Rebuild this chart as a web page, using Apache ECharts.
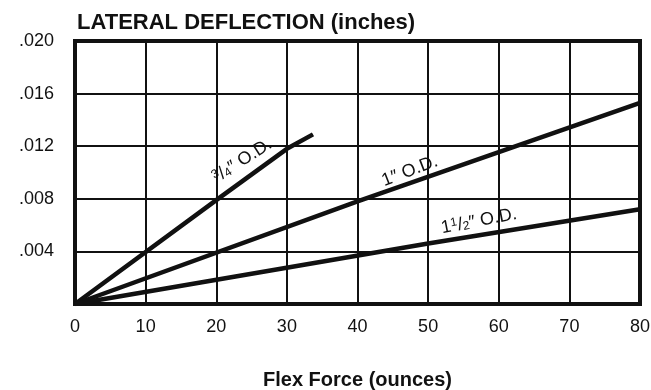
<!DOCTYPE html>
<html>
<head>
<meta charset="utf-8">
<script src="https://cdn.jsdelivr.net/npm/echarts@6/dist/echarts.min.js"></script>
<style>
  html, body { margin: 0; padding: 0; background: #fff; }
  #chart { width: 651px; height: 390px; }
</style>
</head>
<body>
<div id="chart"></div>
<script>
// Flex force (ounces) vs lateral deflection (inches) for three tube sizes
const forceTicks = [0, 10, 20, 30, 40, 50, 60, 70, 80];
const deflectionTicks = ['', '.004', '.008', '.012', '.016', '.020'];

const od075 = [[0, 0], [20, 0.0079], [30, 0.0118], [33.7, 0.0129]];
const od100 = [[0, 0], [40, 0.0078], [80, 0.0153]];
const od150 = [[0, 0], [50, 0.0046], [80, 0.0072]];

// label anchor points (force, deflection) and slant angles
const labelSpots = [
  { name: 'od075', at: [23.7, 0.0109], angle: 33 },
  { name: 'od100', at: [47.4, 0.0101], angle: 21 },
  { name: 'od150', at: [57.2, 0.0063], angle: 11 }
];

const sans = '"Liberation Sans", Arial, Helvetica, sans-serif';

const fracRich = {
  t: { fontFamily: sans, fontSize: 18, color: '#111' },
  sup: { fontFamily: sans, fontSize: 12, color: '#111', padding: [0, 0, 7, 0] },
  sub: { fontFamily: sans, fontSize: 12, color: '#111', padding: [5, 0, 0, 0] }
};

const labelText = {
  od075: '{sup|3}{t|/}{sub|4}{t|″ O.D.}',
  od100: '{t|1″ O.D.}',
  od150: '{t|1}{sup|1}{t|/}{sub|2}{t|″ O.D.}'
};

function lineSeries(key, data) {
  const spot = labelSpots.find(s => s.name === key);
  return {
    type: 'line',
    name: key,
    data: data,
    symbol: 'none',
    silent: true,
    lineStyle: { color: '#111', width: 4.5 },
    markPoint: {
      symbol: 'circle',
      symbolSize: 0,
      silent: true,
      data: [{
        coord: spot.at,
        label: {
          show: true,
          position: 'inside',
          rotate: spot.angle,
          formatter: labelText[key],
          rich: fracRich
        }
      }]
    }
  };
}

const chart = echarts.init(document.getElementById('chart'), null, { renderer: 'canvas' });
chart.setOption({
  animation: false,
  backgroundColor: '#fff',
  title: {
    text: 'LATERAL DEFLECTION (inches)',
    left: 72,
    top: 7,
    textStyle: { fontFamily: sans, fontWeight: 'bold', fontSize: 22, color: '#111' }
  },
  grid: {
    left: 75, right: 11, top: 41, bottom: 86,
    outerBoundsMode: 'none',
    containLabel: false,
    show: true, borderColor: '#111', borderWidth: 4
  },
  xAxis: {
    type: 'value',
    min: forceTicks[0],
    max: forceTicks[forceTicks.length - 1],
    interval: 10,
    name: 'Flex Force (ounces)',
    nameLocation: 'middle',
    nameGap: 66,
    nameTextStyle: { fontFamily: sans, fontWeight: 'bold', fontSize: 20, color: '#111' },
    axisLine: { show: false },
    axisTick: { show: false },
    axisLabel: {
      margin: 14,
      fontFamily: sans, fontSize: 18, color: '#111',
      formatter: v => String(v)
    },
    splitLine: { show: true, lineStyle: { color: '#111', width: 2 } }
  },
  yAxis: {
    type: 'value',
    min: 0,
    max: 0.020,
    interval: 0.004,
    axisLine: { show: false },
    axisTick: { show: false },
    axisLabel: {
      margin: 21,
      fontFamily: sans, fontSize: 18, color: '#111',
      formatter: v => deflectionTicks[Math.round(v / 0.004)]
    },
    splitLine: { show: true, lineStyle: { color: '#111', width: 2 } }
  },
  series: [
    lineSeries('od075', od075),
    lineSeries('od100', od100),
    lineSeries('od150', od150)
  ]
});
</script>
</body>
</html>
